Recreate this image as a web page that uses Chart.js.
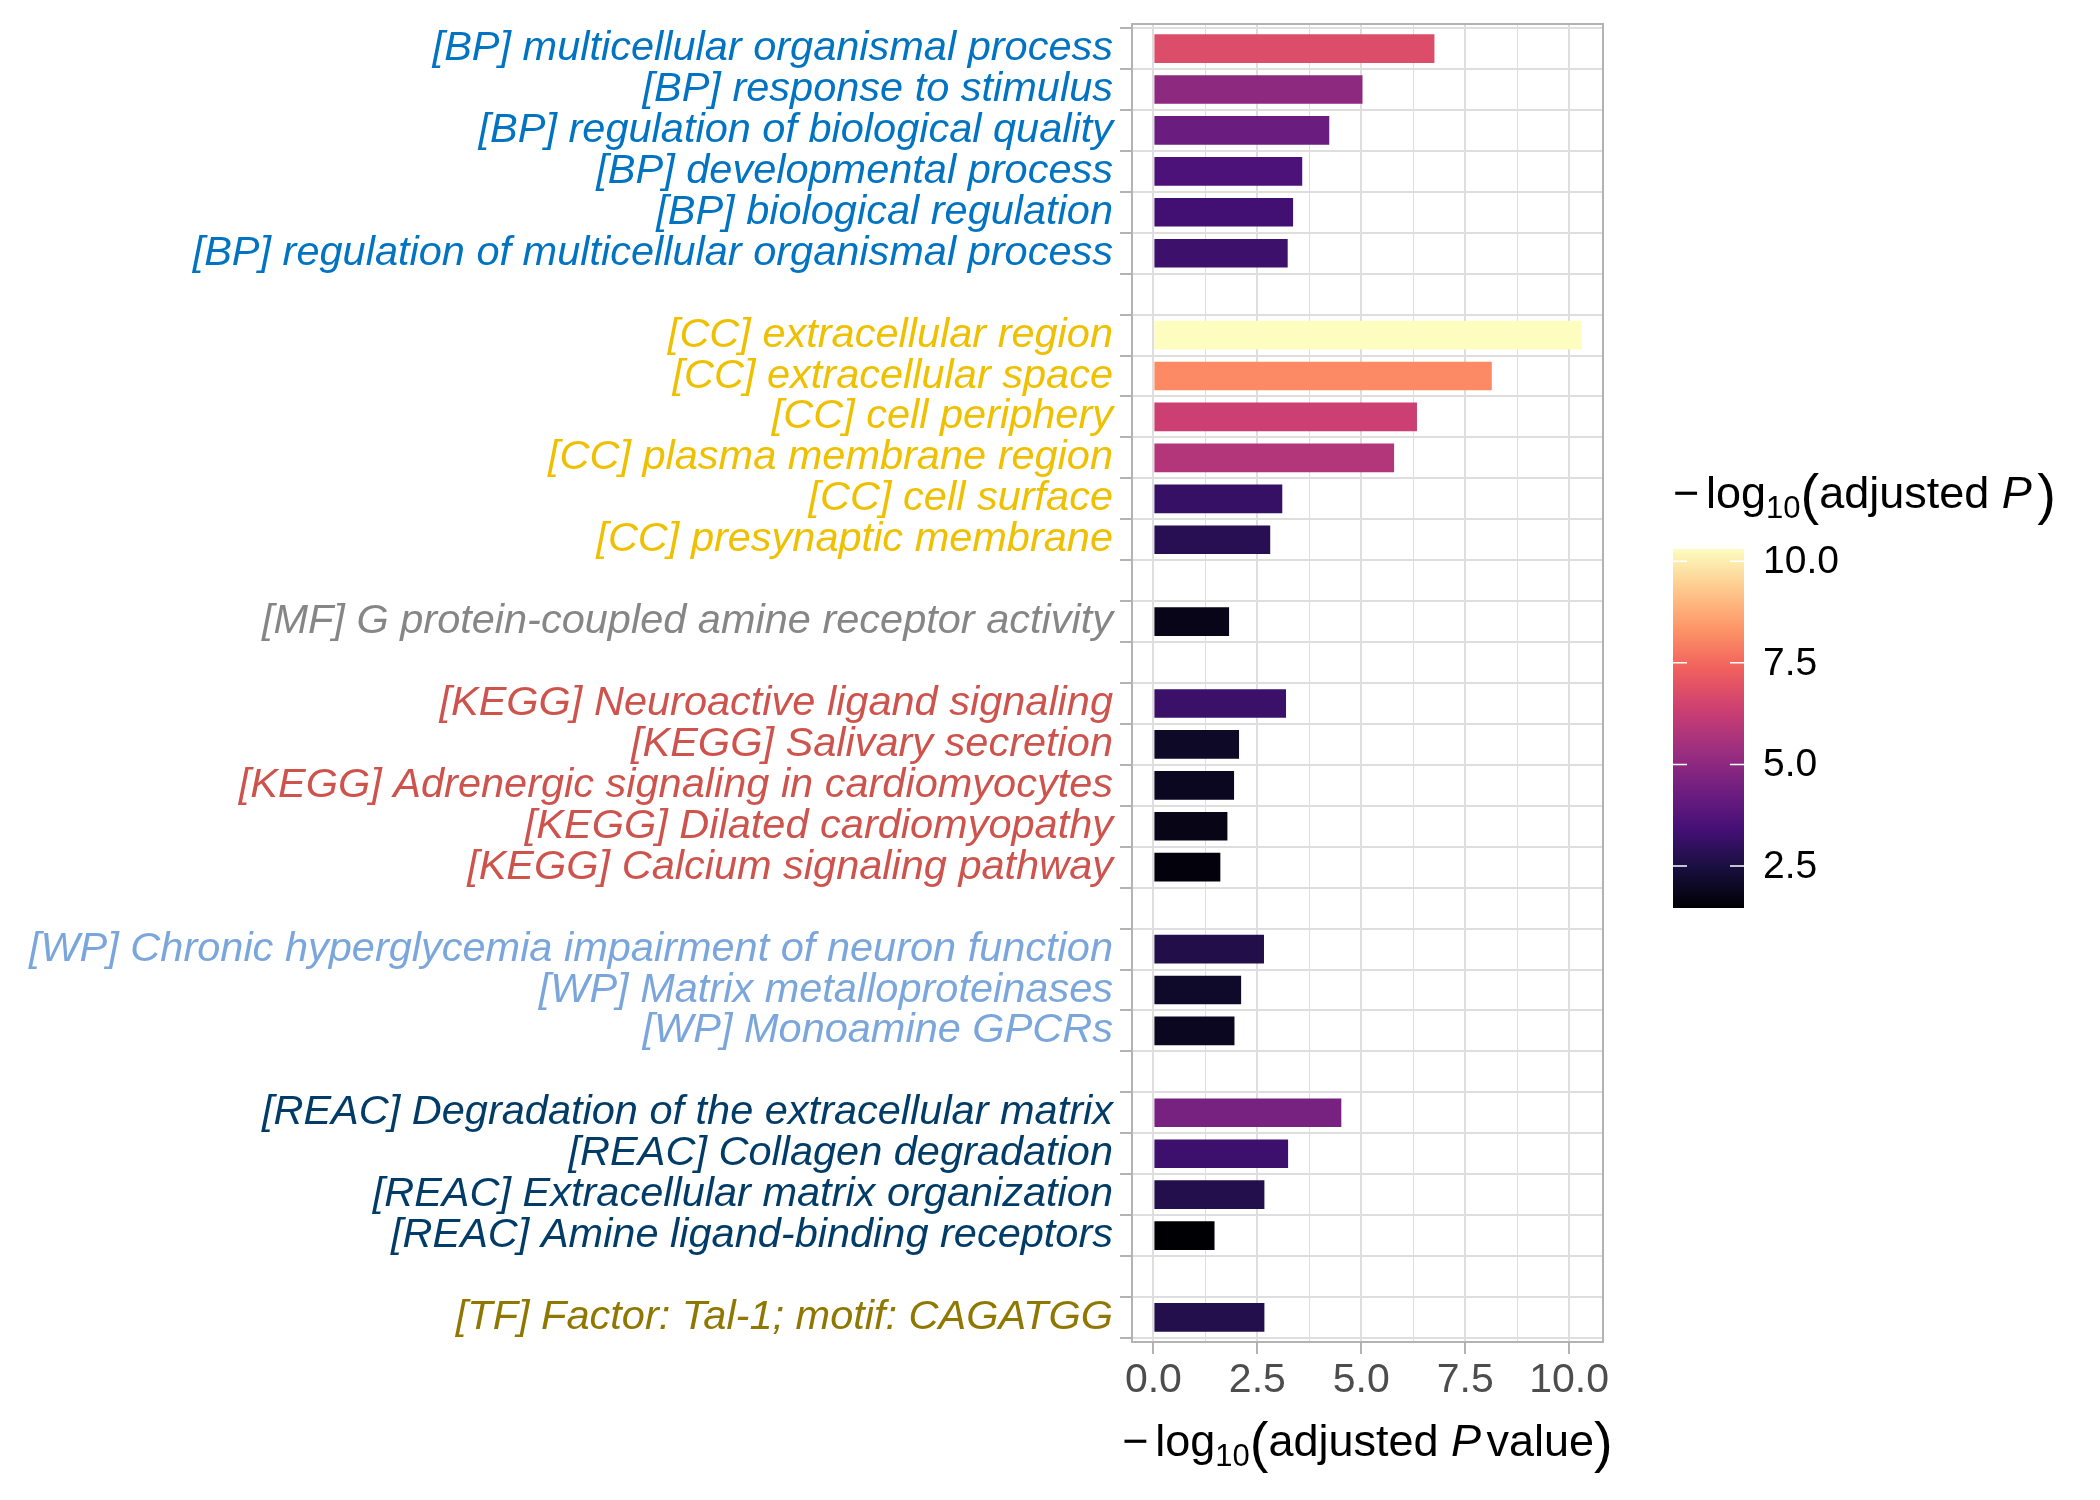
<!DOCTYPE html>
<html>
<head>
<meta charset="utf-8">
<title>Enrichment terms</title>
<script src="https://cdn.jsdelivr.net/npm/chart.js"></script>
<style>
  body { margin: 0; background: #fff; }
  #wrap { width: 2100px; height: 1500px; }
</style>
</head>
<body>
<div id="wrap"><canvas id="chart" width="2100" height="1500"></canvas></div>
<script>
// enriched terms, top to bottom, with their source and -log10(adj P)
const terms = [
  '[BP] multicellular organismal process',
  '[BP] response to stimulus',
  '[BP] regulation of biological quality',
  '[BP] developmental process',
  '[BP] biological regulation',
  '[BP] regulation of multicellular organismal process',
  '[CC] extracellular region',
  '[CC] extracellular space',
  '[CC] cell periphery',
  '[CC] plasma membrane region',
  '[CC] cell surface',
  '[CC] presynaptic membrane',
  '[MF] G protein-coupled amine receptor activity',
  '[KEGG] Neuroactive ligand signaling',
  '[KEGG] Salivary secretion',
  '[KEGG] Adrenergic signaling in cardiomyocytes',
  '[KEGG] Dilated cardiomyopathy',
  '[KEGG] Calcium signaling pathway',
  '[WP] Chronic hyperglycemia impairment of neuron function',
  '[WP] Matrix metalloproteinases',
  '[WP] Monoamine GPCRs',
  '[REAC] Degradation of the extracellular matrix',
  '[REAC] Collagen degradation',
  '[REAC] Extracellular matrix organization',
  '[REAC] Amine ligand-binding receptors',
  '[TF] Factor: Tal-1; motif: CAGATGG'
];
const sources = [
  'BP', 'BP', 'BP', 'BP', 'BP', 'BP',
  'CC', 'CC', 'CC', 'CC', 'CC', 'CC',
  'MF',
  'KEGG', 'KEGG', 'KEGG', 'KEGG', 'KEGG',
  'WP', 'WP', 'WP',
  'REAC', 'REAC', 'REAC', 'REAC',
  'TF'
];
const scores = [
  6.76, 5.03, 4.23, 3.58, 3.36, 3.23,
  10.30, 8.14, 6.34, 5.79, 3.10, 2.81,
  1.82,
  3.19, 2.06, 1.94, 1.78, 1.61,
  2.66, 2.11, 1.95,
  4.52, 3.24, 2.67, 1.47,
  2.67
];
const xTicks = [0, 1.25, 2.5, 3.75, 5, 6.25, 7.5, 8.75, 10];
const legendTicks = [2.5, 5, 7.5, 10];

const sourceColors = {
  BP: '#0073C2', CC: '#EFC000', MF: '#868686', KEGG: '#CD534C',
  WP: '#7AA6DC', REAC: '#003C67', TF: '#8F7700'
};
const magma = ['#000004', '#180F3E', '#451077', '#721F81', '#9F2F7F',
               '#CD4071', '#F1605D', '#FD9567', '#FEC98D', '#FCFDBF'];

const FONT = "'Liberation Sans', Arial, sans-serif";

// rows with an empty row between sources
const rowLabels = [], rowSources = [], points = [];
terms.forEach((t, i) => {
  if (i > 0 && sources[i] !== sources[i - 1]) {
    rowLabels.push('');
    rowSources.push(null);
  }
  rowLabels.push(t);
  rowSources.push(sources[i]);
  points.push({ x: scores[i], y: rowLabels.length - 1 });
});

const cMin = Math.min(...scores), cMax = Math.max(...scores);

function hexRgb(h) {
  return [1, 3, 5].map(k => parseInt(h.substr(k, 2), 16));
}
function magmaAt(v) {
  let t = (v - cMin) / (cMax - cMin);
  t = Math.max(0, Math.min(1, t));
  const p = t * (magma.length - 1);
  const i = Math.min(Math.floor(p), magma.length - 2);
  const f = p - i;
  const a = hexRgb(magma[i]), b = hexRgb(magma[i + 1]);
  const c = a.map((x, k) => Math.round(x + (b[k] - x) * f));
  return 'rgb(' + c.join(',') + ')';
}

// text with subscript / italic pieces (plotmath style)
function drawParts(ctx, parts, x, baseline, align) {
  let total = 0;
  parts.forEach(p => {
    ctx.font = (p.italic ? 'italic ' : '') + p.size + 'px ' + FONT;
    p.w = ctx.measureText(p.text).width;
    total += p.w + (p.gap || 0);
  });
  let cx = align === 'center' ? x - total / 2 : x;
  ctx.textAlign = 'left';
  ctx.textBaseline = 'alphabetic';
  ctx.fillStyle = '#000';
  parts.forEach(p => {
    ctx.font = (p.italic ? 'italic ' : '') + p.size + 'px ' + FONT;
    ctx.fillText(p.text, cx, baseline + (p.dy || 0));
    cx += p.w + (p.gap || 0);
  });
}
function titleParts(S, tail) {
  const parts = [
    { text: '\u2212', size: S, gap: S * 0.15 },
    { text: 'log', size: S },
    { text: '10', size: Math.round(S * 0.7), dy: S * 0.22 },
    { text: '(', size: Math.round(S * 1.25), dy: S * 0.1 },
    { text: 'adjusted ', size: S },
    { text: 'P', size: S, italic: true, gap: S * 0.12 }
  ];
  if (tail) parts.push({ text: tail, size: S });
  parts.push({ text: ')', size: Math.round(S * 1.25), dy: S * 0.1 });
  return parts;
}

// legend box
const LEG = { x: 1673, top: 549, w: 71, h: 359, titleY: 508 };

const decor = {
  id: 'decor',
  afterDraw(chart) {
    const ctx = chart.ctx;
    const a = chart.chartArea;
    ctx.save();
    // panel border
    ctx.strokeStyle = '#b3b3b3';
    ctx.lineWidth = 2;
    ctx.strokeRect(a.left, a.top, a.right - a.left, a.bottom - a.top);

    // x axis title
    drawParts(ctx, titleParts(45, 'value'), (a.left + a.right) / 2, 1456, 'center');

    // colour bar legend
    drawParts(ctx, titleParts(45, null), LEG.x, LEG.titleY, 'left');
    const bottom = LEG.top + LEG.h;
    const g = ctx.createLinearGradient(0, bottom, 0, LEG.top);
    magma.forEach((c, k) => g.addColorStop(k / (magma.length - 1), c));
    ctx.fillStyle = g;
    ctx.fillRect(LEG.x, LEG.top, LEG.w, LEG.h);
    ctx.font = '39px ' + FONT;
    ctx.textAlign = 'left';
    ctx.textBaseline = 'middle';
    legendTicks.forEach(v => {
      const y = bottom - (v - cMin) / (cMax - cMin) * LEG.h;
      ctx.strokeStyle = '#ffffff';
      ctx.lineWidth = 1.5;
      ctx.beginPath();
      ctx.moveTo(LEG.x, y); ctx.lineTo(LEG.x + 14, y);
      ctx.moveTo(LEG.x + LEG.w - 14, y); ctx.lineTo(LEG.x + LEG.w, y);
      ctx.stroke();
      ctx.fillStyle = '#000';
      ctx.fillText(v.toFixed(1), LEG.x + LEG.w + 19, y + 1);
    });
    ctx.restore();
  }
};

const xPad = 0.05 * cMax;

new Chart(document.getElementById('chart'), {
  type: 'bar',
  data: {
    datasets: [{
      data: points,
      backgroundColor: points.map(p => magmaAt(p.x)),
      borderWidth: 0,
      barPercentage: 0.7,
      categoryPercentage: 1
    }]
  },
  options: {
    indexAxis: 'y',
    responsive: false,
    devicePixelRatio: 1,
    animation: false,
    layout: { padding: { top: 24, right: 497, left: 0, bottom: 0 } },
    plugins: { legend: { display: false }, tooltip: { enabled: false } },
    scales: {
      y: {
        type: 'linear',
        reverse: true,
        offset: false,
        min: -0.6,
        max: rowLabels.length - 0.4,
        afterBuildTicks: s => { s.ticks = rowLabels.map((l, i) => ({ value: i })); },
        afterFit: s => { s.width = 1132; s.paddingTop = 0; s.paddingBottom = 0; },
        border: { display: false },
        grid: { color: '#dedede', lineWidth: 2, tickColor: '#b3b3b3', tickLength: 12 },
        ticks: {
          autoSkip: false,
          padding: 7,
          font: { family: FONT, size: 41.5, style: 'italic' },
          color: c => sourceColors[rowSources[c.index]] || '#000',
          callback: v => rowLabels[v]
        }
      },
      x: {
        type: 'linear',
        min: -xPad,
        max: cMax + xPad,
        afterBuildTicks: s => { s.ticks = xTicks.map(v => ({ value: v })); },
        afterFit: s => { s.height = 158; s.paddingLeft = 0; s.paddingRight = 0; },
        border: { display: false },
        grid: {
          color: '#dedede',
          lineWidth: c => (c.tick && c.tick.value % 2.5 === 0) ? 2 : 1,
          tickColor: c => (c.tick && c.tick.value % 2.5 === 0) ? '#b3b3b3' : 'rgba(0,0,0,0)',
          tickLength: 12
        },
        ticks: {
          autoSkip: false,
          maxRotation: 0,
          padding: 2,
          font: { family: FONT, size: 41 },
          color: '#4d4d4d',
          callback: v => (v % 2.5 === 0) ? v.toFixed(1) : ''
        }
      }
    }
  },
  plugins: [decor]
});
</script>
</body>
</html>
